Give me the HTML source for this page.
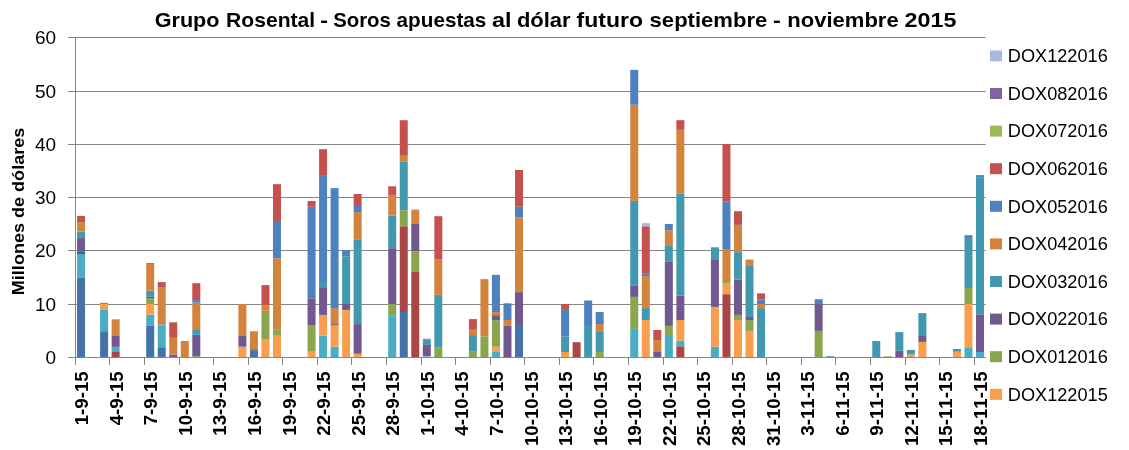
<!DOCTYPE html>
<html lang="es"><head><meta charset="utf-8"><title>Grupo Rosental - Soros apuestas al dólar futuro</title>
<style>html,body{margin:0;padding:0;background:#fff}svg{display:block}text{font-family:"Liberation Sans",sans-serif;fill:#000}.b{font-weight:bold}.k{font-kerning:none}</style></head><body>
<svg width="1129" height="450" viewBox="0 0 1129 450">
<rect width="1129" height="450" fill="#fff"/>
<g stroke="#868686" stroke-width="1"><line x1="68" y1="357.50" x2="985.8" y2="357.50"/><line x1="68" y1="304.50" x2="985.8" y2="304.50"/><line x1="68" y1="250.50" x2="985.8" y2="250.50"/><line x1="68" y1="197.50" x2="985.8" y2="197.50"/><line x1="68" y1="144.50" x2="985.8" y2="144.50"/><line x1="68" y1="91.50" x2="985.8" y2="91.50"/><line x1="68" y1="37.50" x2="985.8" y2="37.50"/></g>
<rect x="77.05" y="277.90" width="8.0" height="79.60" fill="#4572A7"/><rect x="77.05" y="254.00" width="8.0" height="23.90" fill="#4BACC6"/><rect x="77.05" y="251.20" width="8.0" height="2.80" fill="#3A62A0"/><rect x="77.05" y="238.10" width="8.0" height="13.10" fill="#71588F"/><rect x="77.05" y="231.70" width="8.0" height="6.40" fill="#4198AF"/><rect x="77.05" y="222.10" width="8.0" height="9.60" fill="#D4833D"/><rect x="77.05" y="215.90" width="8.0" height="6.20" fill="#C4514E"/>
<rect x="100.10" y="331.20" width="8.0" height="26.30" fill="#4572A7"/><rect x="100.10" y="309.30" width="8.0" height="21.90" fill="#4BACC6"/><rect x="100.10" y="303.80" width="8.0" height="5.50" fill="#F79F4F"/><rect x="100.10" y="302.80" width="8.0" height="1.00" fill="#C4514E"/>
<rect x="111.63" y="352.00" width="8.0" height="5.50" fill="#AA4643"/><rect x="111.63" y="346.90" width="8.0" height="5.10" fill="#4BACC6"/><rect x="111.63" y="336.00" width="8.0" height="10.90" fill="#71588F"/><rect x="111.63" y="319.30" width="8.0" height="16.70" fill="#D4833D"/>
<rect x="146.20" y="325.90" width="8.0" height="31.60" fill="#4572A7"/><rect x="146.20" y="314.70" width="8.0" height="11.20" fill="#4BACC6"/><rect x="146.20" y="304.00" width="8.0" height="10.70" fill="#F79F4F"/><rect x="146.20" y="298.30" width="8.0" height="5.70" fill="#89A54E"/><rect x="146.20" y="296.40" width="8.0" height="1.90" fill="#3A62A0"/><rect x="146.20" y="290.70" width="8.0" height="5.70" fill="#4198AF"/><rect x="146.20" y="264.00" width="8.0" height="26.70" fill="#D4833D"/><rect x="146.20" y="263.10" width="8.0" height="0.90" fill="#C4514E"/>
<rect x="157.73" y="347.20" width="8.0" height="10.30" fill="#4572A7"/><rect x="157.73" y="325.40" width="8.0" height="21.80" fill="#4BACC6"/><rect x="157.73" y="324.40" width="8.0" height="1.00" fill="#4198AF"/><rect x="157.73" y="287.00" width="8.0" height="37.40" fill="#D4833D"/><rect x="157.73" y="282.10" width="8.0" height="4.90" fill="#C4514E"/>
<rect x="169.25" y="354.50" width="8.0" height="3.00" fill="#71588F"/><rect x="169.25" y="337.80" width="8.0" height="16.70" fill="#D4833D"/><rect x="169.25" y="322.30" width="8.0" height="15.50" fill="#C4514E"/>
<rect x="180.78" y="341.00" width="8.0" height="16.50" fill="#D4833D"/>
<rect x="192.30" y="356.20" width="8.0" height="1.30" fill="#89A54E"/><rect x="192.30" y="334.80" width="8.0" height="21.40" fill="#71588F"/><rect x="192.30" y="330.00" width="8.0" height="4.80" fill="#4198AF"/><rect x="192.30" y="302.70" width="8.0" height="27.30" fill="#D4833D"/><rect x="192.30" y="300.10" width="8.0" height="2.60" fill="#4E82BF"/><rect x="192.30" y="283.20" width="8.0" height="16.90" fill="#C4514E"/>
<rect x="238.40" y="346.70" width="8.0" height="10.80" fill="#F79F4F"/><rect x="238.40" y="336.00" width="8.0" height="10.70" fill="#71588F"/><rect x="238.40" y="304.00" width="8.0" height="32.00" fill="#D4833D"/>
<rect x="249.93" y="350.20" width="8.0" height="7.30" fill="#4572A7"/><rect x="249.93" y="349.00" width="8.0" height="1.20" fill="#4198AF"/><rect x="249.93" y="331.20" width="8.0" height="17.80" fill="#D4833D"/>
<rect x="261.45" y="339.60" width="8.0" height="17.90" fill="#F79F4F"/><rect x="261.45" y="310.80" width="8.0" height="28.80" fill="#89A54E"/><rect x="261.45" y="305.30" width="8.0" height="5.50" fill="#D4833D"/><rect x="261.45" y="285.10" width="8.0" height="20.20" fill="#C4514E"/>
<rect x="272.98" y="335.70" width="8.0" height="21.80" fill="#F79F4F"/><rect x="272.98" y="329.80" width="8.0" height="5.90" fill="#89A54E"/><rect x="272.98" y="258.30" width="8.0" height="71.50" fill="#D4833D"/><rect x="272.98" y="221.00" width="8.0" height="37.30" fill="#4E82BF"/><rect x="272.98" y="184.20" width="8.0" height="36.80" fill="#C4514E"/>
<rect x="307.55" y="351.70" width="8.0" height="5.80" fill="#F79F4F"/><rect x="307.55" y="325.00" width="8.0" height="26.70" fill="#89A54E"/><rect x="307.55" y="298.30" width="8.0" height="26.70" fill="#71588F"/><rect x="307.55" y="206.80" width="8.0" height="91.50" fill="#4E82BF"/><rect x="307.55" y="201.00" width="8.0" height="5.80" fill="#C4514E"/>
<rect x="319.08" y="335.70" width="8.0" height="21.80" fill="#4BACC6"/><rect x="319.08" y="314.90" width="8.0" height="20.80" fill="#F79F4F"/><rect x="319.08" y="288.00" width="8.0" height="26.90" fill="#71588F"/><rect x="319.08" y="282.00" width="8.0" height="6.00" fill="#4198AF"/><rect x="319.08" y="175.90" width="8.0" height="106.10" fill="#4E82BF"/><rect x="319.08" y="149.20" width="8.0" height="26.70" fill="#C4514E"/>
<rect x="330.60" y="346.70" width="8.0" height="10.80" fill="#4BACC6"/><rect x="330.60" y="325.40" width="8.0" height="21.30" fill="#F79F4F"/><rect x="330.60" y="324.10" width="8.0" height="1.30" fill="#71588F"/><rect x="330.60" y="308.10" width="8.0" height="16.00" fill="#D4833D"/><rect x="330.60" y="188.10" width="8.0" height="120.00" fill="#4E82BF"/>
<rect x="342.13" y="309.90" width="8.0" height="47.60" fill="#F79F4F"/><rect x="342.13" y="304.00" width="8.0" height="5.90" fill="#71588F"/><rect x="342.13" y="256.60" width="8.0" height="47.40" fill="#4198AF"/><rect x="342.13" y="250.30" width="8.0" height="6.30" fill="#4E82BF"/>
<rect x="353.65" y="353.80" width="8.0" height="3.70" fill="#F79F4F"/><rect x="353.65" y="324.10" width="8.0" height="29.70" fill="#71588F"/><rect x="353.65" y="239.30" width="8.0" height="84.80" fill="#4198AF"/><rect x="353.65" y="212.10" width="8.0" height="27.20" fill="#D4833D"/><rect x="353.65" y="205.00" width="8.0" height="7.10" fill="#4E82BF"/><rect x="353.65" y="194.00" width="8.0" height="11.00" fill="#C4514E"/>
<rect x="388.23" y="315.20" width="8.0" height="42.30" fill="#4BACC6"/><rect x="388.23" y="304.00" width="8.0" height="11.20" fill="#89A54E"/><rect x="388.23" y="248.20" width="8.0" height="55.80" fill="#71588F"/><rect x="388.23" y="215.70" width="8.0" height="32.50" fill="#4198AF"/><rect x="388.23" y="194.90" width="8.0" height="20.80" fill="#D4833D"/><rect x="388.23" y="186.30" width="8.0" height="8.60" fill="#C4514E"/>
<rect x="399.75" y="312.00" width="8.0" height="45.50" fill="#4572A7"/><rect x="399.75" y="226.30" width="8.0" height="85.70" fill="#AA4643"/><rect x="399.75" y="210.30" width="8.0" height="16.00" fill="#89A54E"/><rect x="399.75" y="161.80" width="8.0" height="48.50" fill="#4198AF"/><rect x="399.75" y="155.80" width="8.0" height="6.00" fill="#D4833D"/><rect x="399.75" y="120.20" width="8.0" height="35.60" fill="#C4514E"/>
<rect x="411.28" y="272.00" width="8.0" height="85.50" fill="#AA4643"/><rect x="411.28" y="251.20" width="8.0" height="20.80" fill="#89A54E"/><rect x="411.28" y="224.00" width="8.0" height="27.20" fill="#71588F"/><rect x="411.28" y="210.30" width="8.0" height="13.70" fill="#D4833D"/><rect x="411.28" y="209.60" width="8.0" height="0.70" fill="#C4514E"/>
<rect x="422.80" y="356.10" width="8.0" height="1.40" fill="#A6BBDC"/><rect x="422.80" y="344.90" width="8.0" height="11.20" fill="#71588F"/><rect x="422.80" y="339.60" width="8.0" height="5.30" fill="#4198AF"/><rect x="422.80" y="338.80" width="8.0" height="0.80" fill="#C4514E"/>
<rect x="434.33" y="347.20" width="8.0" height="10.30" fill="#89A54E"/><rect x="434.33" y="294.80" width="8.0" height="52.40" fill="#4198AF"/><rect x="434.33" y="259.60" width="8.0" height="35.20" fill="#D4833D"/><rect x="434.33" y="216.20" width="8.0" height="43.40" fill="#C4514E"/>
<rect x="468.90" y="351.70" width="8.0" height="5.80" fill="#89A54E"/><rect x="468.90" y="335.10" width="8.0" height="16.60" fill="#4198AF"/><rect x="468.90" y="329.80" width="8.0" height="5.30" fill="#D4833D"/><rect x="468.90" y="319.10" width="8.0" height="10.70" fill="#C4514E"/>
<rect x="480.43" y="336.30" width="8.0" height="21.20" fill="#89A54E"/><rect x="480.43" y="279.10" width="8.0" height="57.20" fill="#D4833D"/>
<rect x="491.95" y="352.00" width="8.0" height="5.50" fill="#4BACC6"/><rect x="491.95" y="346.70" width="8.0" height="5.30" fill="#F79F4F"/><rect x="491.95" y="320.20" width="8.0" height="26.50" fill="#89A54E"/><rect x="491.95" y="315.20" width="8.0" height="5.00" fill="#71588F"/><rect x="491.95" y="312.00" width="8.0" height="3.20" fill="#D4833D"/><rect x="491.95" y="274.90" width="8.0" height="37.10" fill="#4E82BF"/>
<rect x="503.48" y="325.90" width="8.0" height="31.60" fill="#71588F"/><rect x="503.48" y="320.00" width="8.0" height="5.90" fill="#D4833D"/><rect x="503.48" y="303.30" width="8.0" height="16.70" fill="#4E82BF"/>
<rect x="515.00" y="325.00" width="8.0" height="32.50" fill="#4572A7"/><rect x="515.00" y="292.10" width="8.0" height="32.90" fill="#71588F"/><rect x="515.00" y="217.40" width="8.0" height="74.70" fill="#D4833D"/><rect x="515.00" y="206.60" width="8.0" height="10.80" fill="#4E82BF"/><rect x="515.00" y="170.00" width="8.0" height="36.60" fill="#C4514E"/>
<rect x="561.10" y="352.00" width="8.0" height="5.50" fill="#F79F4F"/><rect x="561.10" y="336.60" width="8.0" height="15.40" fill="#4198AF"/><rect x="561.10" y="309.90" width="8.0" height="26.70" fill="#4E82BF"/><rect x="561.10" y="304.00" width="8.0" height="5.90" fill="#C4514E"/>
<rect x="572.63" y="342.20" width="8.0" height="15.30" fill="#AA4643"/>
<rect x="584.15" y="325.00" width="8.0" height="32.50" fill="#4198AF"/><rect x="584.15" y="300.50" width="8.0" height="24.50" fill="#4E82BF"/>
<rect x="595.68" y="352.00" width="8.0" height="5.50" fill="#89A54E"/><rect x="595.68" y="331.20" width="8.0" height="20.80" fill="#4198AF"/><rect x="595.68" y="324.10" width="8.0" height="7.10" fill="#D4833D"/><rect x="595.68" y="312.00" width="8.0" height="12.10" fill="#4E82BF"/>
<rect x="630.25" y="328.90" width="8.0" height="28.60" fill="#4BACC6"/><rect x="630.25" y="296.90" width="8.0" height="32.00" fill="#89A54E"/><rect x="630.25" y="285.90" width="8.0" height="11.00" fill="#71588F"/><rect x="630.25" y="200.90" width="8.0" height="85.00" fill="#4198AF"/><rect x="630.25" y="104.80" width="8.0" height="96.10" fill="#D4833D"/><rect x="630.25" y="69.90" width="8.0" height="34.90" fill="#4E82BF"/>
<rect x="641.78" y="320.00" width="8.0" height="37.50" fill="#F79F4F"/><rect x="641.78" y="308.10" width="8.0" height="11.90" fill="#4198AF"/><rect x="641.78" y="276.10" width="8.0" height="32.00" fill="#D4833D"/><rect x="641.78" y="273.80" width="8.0" height="2.30" fill="#4E82BF"/><rect x="641.78" y="226.30" width="8.0" height="47.50" fill="#C4514E"/><rect x="641.78" y="223.10" width="8.0" height="3.20" fill="#A6BBDC"/>
<rect x="653.30" y="352.00" width="8.0" height="5.50" fill="#71588F"/><rect x="653.30" y="340.10" width="8.0" height="11.90" fill="#D4833D"/><rect x="653.30" y="330.00" width="8.0" height="10.10" fill="#C4514E"/>
<rect x="664.83" y="336.00" width="8.0" height="21.50" fill="#4BACC6"/><rect x="664.83" y="325.90" width="8.0" height="10.10" fill="#89A54E"/><rect x="664.83" y="261.90" width="8.0" height="64.00" fill="#71588F"/><rect x="664.83" y="245.90" width="8.0" height="16.00" fill="#4198AF"/><rect x="664.83" y="230.20" width="8.0" height="15.70" fill="#D4833D"/><rect x="664.83" y="224.00" width="8.0" height="6.20" fill="#4E82BF"/>
<rect x="676.35" y="346.30" width="8.0" height="11.20" fill="#AA4643"/><rect x="676.35" y="340.60" width="8.0" height="5.70" fill="#4BACC6"/><rect x="676.35" y="320.00" width="8.0" height="20.60" fill="#F79F4F"/><rect x="676.35" y="295.70" width="8.0" height="24.30" fill="#71588F"/><rect x="676.35" y="193.80" width="8.0" height="101.90" fill="#4198AF"/><rect x="676.35" y="129.80" width="8.0" height="64.00" fill="#D4833D"/><rect x="676.35" y="120.20" width="8.0" height="9.60" fill="#C4514E"/>
<rect x="710.93" y="346.70" width="8.0" height="10.80" fill="#4BACC6"/><rect x="710.93" y="306.90" width="8.0" height="39.80" fill="#F79F4F"/><rect x="710.93" y="259.20" width="8.0" height="47.70" fill="#71588F"/><rect x="710.93" y="247.30" width="8.0" height="11.90" fill="#4198AF"/>
<rect x="722.45" y="294.20" width="8.0" height="63.30" fill="#AA4643"/><rect x="722.45" y="283.20" width="8.0" height="11.00" fill="#F79F4F"/><rect x="722.45" y="282.00" width="8.0" height="1.20" fill="#89A54E"/><rect x="722.45" y="249.80" width="8.0" height="32.20" fill="#D4833D"/><rect x="722.45" y="201.40" width="8.0" height="48.40" fill="#4E82BF"/><rect x="722.45" y="144.00" width="8.0" height="57.40" fill="#C4514E"/>
<rect x="733.98" y="320.00" width="8.0" height="37.50" fill="#F79F4F"/><rect x="733.98" y="314.90" width="8.0" height="5.10" fill="#89A54E"/><rect x="733.98" y="279.70" width="8.0" height="35.20" fill="#71588F"/><rect x="733.98" y="252.10" width="8.0" height="27.60" fill="#4198AF"/><rect x="733.98" y="224.90" width="8.0" height="27.20" fill="#D4833D"/><rect x="733.98" y="211.20" width="8.0" height="13.70" fill="#C4514E"/>
<rect x="745.50" y="330.90" width="8.0" height="26.60" fill="#F79F4F"/><rect x="745.50" y="320.20" width="8.0" height="10.70" fill="#89A54E"/><rect x="745.50" y="317.00" width="8.0" height="3.20" fill="#71588F"/><rect x="745.50" y="266.00" width="8.0" height="51.00" fill="#4198AF"/><rect x="745.50" y="259.60" width="8.0" height="6.40" fill="#D4833D"/>
<rect x="757.03" y="308.10" width="8.0" height="49.40" fill="#4198AF"/><rect x="757.03" y="304.00" width="8.0" height="4.10" fill="#D4833D"/><rect x="757.03" y="299.60" width="8.0" height="4.40" fill="#4E82BF"/><rect x="757.03" y="293.40" width="8.0" height="6.20" fill="#C4514E"/>
<rect x="814.65" y="330.90" width="8.0" height="26.60" fill="#89A54E"/><rect x="814.65" y="304.00" width="8.0" height="26.90" fill="#71588F"/><rect x="814.65" y="299.20" width="8.0" height="4.80" fill="#4E82BF"/>
<rect x="826.18" y="356.30" width="8.0" height="1.20" fill="#4572A7"/>
<rect x="872.28" y="341.00" width="8.0" height="16.50" fill="#4198AF"/>
<rect x="883.80" y="356.30" width="8.0" height="1.20" fill="#89A54E"/>
<rect x="895.33" y="350.80" width="8.0" height="6.70" fill="#71588F"/><rect x="895.33" y="332.10" width="8.0" height="18.70" fill="#4198AF"/>
<rect x="906.85" y="354.50" width="8.0" height="3.00" fill="#F79F4F"/><rect x="906.85" y="349.90" width="8.0" height="4.60" fill="#4198AF"/>
<rect x="918.38" y="341.90" width="8.0" height="15.60" fill="#F79F4F"/><rect x="918.38" y="336.00" width="8.0" height="5.90" fill="#71588F"/><rect x="918.38" y="313.10" width="8.0" height="22.90" fill="#4198AF"/>
<rect x="952.95" y="351.70" width="8.0" height="5.80" fill="#F79F4F"/><rect x="952.95" y="349.00" width="8.0" height="2.70" fill="#4198AF"/>
<rect x="964.48" y="347.20" width="8.0" height="10.30" fill="#4BACC6"/><rect x="964.48" y="304.00" width="8.0" height="43.20" fill="#F79F4F"/><rect x="964.48" y="288.00" width="8.0" height="16.00" fill="#89A54E"/><rect x="964.48" y="238.00" width="8.0" height="50.00" fill="#4198AF"/><rect x="964.48" y="235.20" width="8.0" height="2.80" fill="#4E82BF"/>
<rect x="976.00" y="352.00" width="8.0" height="5.50" fill="#4BACC6"/><rect x="976.00" y="314.30" width="8.0" height="37.70" fill="#71588F"/><rect x="976.00" y="177.20" width="8.0" height="137.10" fill="#4198AF"/><rect x="976.00" y="175.10" width="8.0" height="2.10" fill="#4E82BF"/>
<g stroke="#868686" stroke-width="1"><line x1="75.5" y1="37" x2="75.5" y2="365.0"/><line x1="68" y1="357.5" x2="985.8" y2="357.5"/><line x1="109.50" y1="357.5" x2="109.50" y2="365.0"/><line x1="144.50" y1="357.5" x2="144.50" y2="365.0"/><line x1="179.50" y1="357.5" x2="179.50" y2="365.0"/><line x1="213.50" y1="357.5" x2="213.50" y2="365.0"/><line x1="248.50" y1="357.5" x2="248.50" y2="365.0"/><line x1="282.50" y1="357.5" x2="282.50" y2="365.0"/><line x1="317.50" y1="357.5" x2="317.50" y2="365.0"/><line x1="351.50" y1="357.5" x2="351.50" y2="365.0"/><line x1="386.50" y1="357.5" x2="386.50" y2="365.0"/><line x1="421.50" y1="357.5" x2="421.50" y2="365.0"/><line x1="455.50" y1="357.5" x2="455.50" y2="365.0"/><line x1="490.50" y1="357.5" x2="490.50" y2="365.0"/><line x1="524.50" y1="357.5" x2="524.50" y2="365.0"/><line x1="559.50" y1="357.5" x2="559.50" y2="365.0"/><line x1="593.50" y1="357.5" x2="593.50" y2="365.0"/><line x1="628.50" y1="357.5" x2="628.50" y2="365.0"/><line x1="663.50" y1="357.5" x2="663.50" y2="365.0"/><line x1="697.50" y1="357.5" x2="697.50" y2="365.0"/><line x1="732.50" y1="357.5" x2="732.50" y2="365.0"/><line x1="766.50" y1="357.5" x2="766.50" y2="365.0"/><line x1="801.50" y1="357.5" x2="801.50" y2="365.0"/><line x1="835.50" y1="357.5" x2="835.50" y2="365.0"/><line x1="870.50" y1="357.5" x2="870.50" y2="365.0"/><line x1="905.50" y1="357.5" x2="905.50" y2="365.0"/><line x1="939.50" y1="357.5" x2="939.50" y2="365.0"/><line x1="974.50" y1="357.5" x2="974.50" y2="365.0"/></g>
<text x="56.2" y="364.0" font-size="19" text-anchor="end">0</text>
<text x="56.2" y="311.0" font-size="19" text-anchor="end">10</text>
<text x="56.2" y="257.0" font-size="19" text-anchor="end">20</text>
<text x="56.2" y="204.0" font-size="19" text-anchor="end">30</text>
<text x="56.2" y="151.0" font-size="19" text-anchor="end">40</text>
<text x="56.2" y="98.0" font-size="19" text-anchor="end">50</text>
<text x="56.2" y="44.0" font-size="19" text-anchor="end">60</text>
<text class="b k" font-size="18.7" text-anchor="end" transform="translate(88.05,371.3) rotate(-90)">1-9-15</text>
<text class="b k" font-size="18.7" text-anchor="end" transform="translate(122.63,371.3) rotate(-90)">4-9-15</text>
<text class="b k" font-size="18.7" text-anchor="end" transform="translate(157.20,371.3) rotate(-90)">7-9-15</text>
<text class="b k" font-size="18.7" text-anchor="end" transform="translate(191.78,371.3) rotate(-90)">10-9-15</text>
<text class="b k" font-size="18.7" text-anchor="end" transform="translate(226.35,371.3) rotate(-90)">13-9-15</text>
<text class="b k" font-size="18.7" text-anchor="end" transform="translate(260.93,371.3) rotate(-90)">16-9-15</text>
<text class="b k" font-size="18.7" text-anchor="end" transform="translate(295.50,371.3) rotate(-90)">19-9-15</text>
<text class="b k" font-size="18.7" text-anchor="end" transform="translate(330.08,371.3) rotate(-90)">22-9-15</text>
<text class="b k" font-size="18.7" text-anchor="end" transform="translate(364.65,371.3) rotate(-90)">25-9-15</text>
<text class="b k" font-size="18.7" text-anchor="end" transform="translate(399.23,371.3) rotate(-90)">28-9-15</text>
<text class="b k" font-size="18.7" text-anchor="end" transform="translate(433.80,371.3) rotate(-90)">1-10-15</text>
<text class="b k" font-size="18.7" text-anchor="end" transform="translate(468.38,371.3) rotate(-90)">4-10-15</text>
<text class="b k" font-size="18.7" text-anchor="end" transform="translate(502.95,371.3) rotate(-90)">7-10-15</text>
<text class="b k" font-size="18.7" text-anchor="end" transform="translate(537.53,371.3) rotate(-90)">10-10-15</text>
<text class="b k" font-size="18.7" text-anchor="end" transform="translate(572.10,371.3) rotate(-90)">13-10-15</text>
<text class="b k" font-size="18.7" text-anchor="end" transform="translate(606.68,371.3) rotate(-90)">16-10-15</text>
<text class="b k" font-size="18.7" text-anchor="end" transform="translate(641.25,371.3) rotate(-90)">19-10-15</text>
<text class="b k" font-size="18.7" text-anchor="end" transform="translate(675.83,371.3) rotate(-90)">22-10-15</text>
<text class="b k" font-size="18.7" text-anchor="end" transform="translate(710.40,371.3) rotate(-90)">25-10-15</text>
<text class="b k" font-size="18.7" text-anchor="end" transform="translate(744.98,371.3) rotate(-90)">28-10-15</text>
<text class="b k" font-size="18.7" text-anchor="end" transform="translate(779.55,371.3) rotate(-90)">31-10-15</text>
<text class="b k" font-size="18.7" text-anchor="end" transform="translate(814.13,371.3) rotate(-90)">3-11-15</text>
<text class="b k" font-size="18.7" text-anchor="end" transform="translate(848.70,371.3) rotate(-90)">6-11-15</text>
<text class="b k" font-size="18.7" text-anchor="end" transform="translate(883.28,371.3) rotate(-90)">9-11-15</text>
<text class="b k" font-size="18.7" text-anchor="end" transform="translate(917.85,371.3) rotate(-90)">12-11-15</text>
<text class="b k" font-size="18.7" text-anchor="end" transform="translate(952.43,371.3) rotate(-90)">15-11-15</text>
<text class="b k" font-size="18.7" text-anchor="end" transform="translate(987.00,371.3) rotate(-90)">18-11-15</text>
<text class="b" font-size="20.4" y="26.6"><tspan x="154.7" textLength="64.8" lengthAdjust="spacingAndGlyphs">Grupo</tspan> <tspan x="226.1" textLength="89.1" lengthAdjust="spacingAndGlyphs">Rosental</tspan> <tspan x="320.3" textLength="7.8" lengthAdjust="spacingAndGlyphs">-</tspan> <tspan x="333.2" textLength="57.7" lengthAdjust="spacingAndGlyphs">Soros</tspan> <tspan x="396.6" textLength="89.7" lengthAdjust="spacingAndGlyphs">apuestas</tspan> <tspan x="492.1" textLength="19.5" lengthAdjust="spacingAndGlyphs">al</tspan> <tspan x="516.9" textLength="53.7" lengthAdjust="spacingAndGlyphs">dólar</tspan> <tspan x="576.5" textLength="66.5" lengthAdjust="spacingAndGlyphs">futuro</tspan> <tspan x="649.6" textLength="117.7" lengthAdjust="spacingAndGlyphs">septiembre</tspan> <tspan x="773.1" textLength="7.8" lengthAdjust="spacingAndGlyphs">-</tspan> <tspan x="787.3" textLength="111.4" lengthAdjust="spacingAndGlyphs">noviembre</tspan> <tspan x="904.6" textLength="51.8" lengthAdjust="spacingAndGlyphs">2015</tspan></text>
<text class="b" font-size="16" textLength="167.5" lengthAdjust="spacingAndGlyphs" transform="translate(24,295.2) rotate(-90)">Millones de dólares</text>
<rect x="990" y="50.4" width="12" height="11" fill="#A6BBDC"/><text x="1007.8" y="62.2" font-size="17.5" textLength="100" lengthAdjust="spacingAndGlyphs">DOX122016</text>
<rect x="990" y="88.0" width="12" height="11" fill="#8064A2"/><text x="1007.8" y="99.8" font-size="17.5" textLength="100" lengthAdjust="spacingAndGlyphs">DOX082016</text>
<rect x="990" y="125.6" width="12" height="11" fill="#9BBB59"/><text x="1007.8" y="137.4" font-size="17.5" textLength="100" lengthAdjust="spacingAndGlyphs">DOX072016</text>
<rect x="990" y="163.2" width="12" height="11" fill="#C4514E"/><text x="1007.8" y="175.0" font-size="17.5" textLength="100" lengthAdjust="spacingAndGlyphs">DOX062016</text>
<rect x="990" y="200.8" width="12" height="11" fill="#4E82BF"/><text x="1007.8" y="212.6" font-size="17.5" textLength="100" lengthAdjust="spacingAndGlyphs">DOX052016</text>
<rect x="990" y="238.4" width="12" height="11" fill="#D4833D"/><text x="1007.8" y="250.2" font-size="17.5" textLength="100" lengthAdjust="spacingAndGlyphs">DOX042016</text>
<rect x="990" y="276.0" width="12" height="11" fill="#4198AF"/><text x="1007.8" y="287.8" font-size="17.5" textLength="100" lengthAdjust="spacingAndGlyphs">DOX032016</text>
<rect x="990" y="313.6" width="12" height="11" fill="#71588F"/><text x="1007.8" y="325.4" font-size="17.5" textLength="100" lengthAdjust="spacingAndGlyphs">DOX022016</text>
<rect x="990" y="351.2" width="12" height="11" fill="#89A54E"/><text x="1007.8" y="363.0" font-size="17.5" textLength="100" lengthAdjust="spacingAndGlyphs">DOX012016</text>
<rect x="990" y="388.8" width="12" height="11" fill="#F79F4F"/><text x="1007.8" y="400.6" font-size="17.5" textLength="100" lengthAdjust="spacingAndGlyphs">DOX122015</text>
</svg></body></html>
